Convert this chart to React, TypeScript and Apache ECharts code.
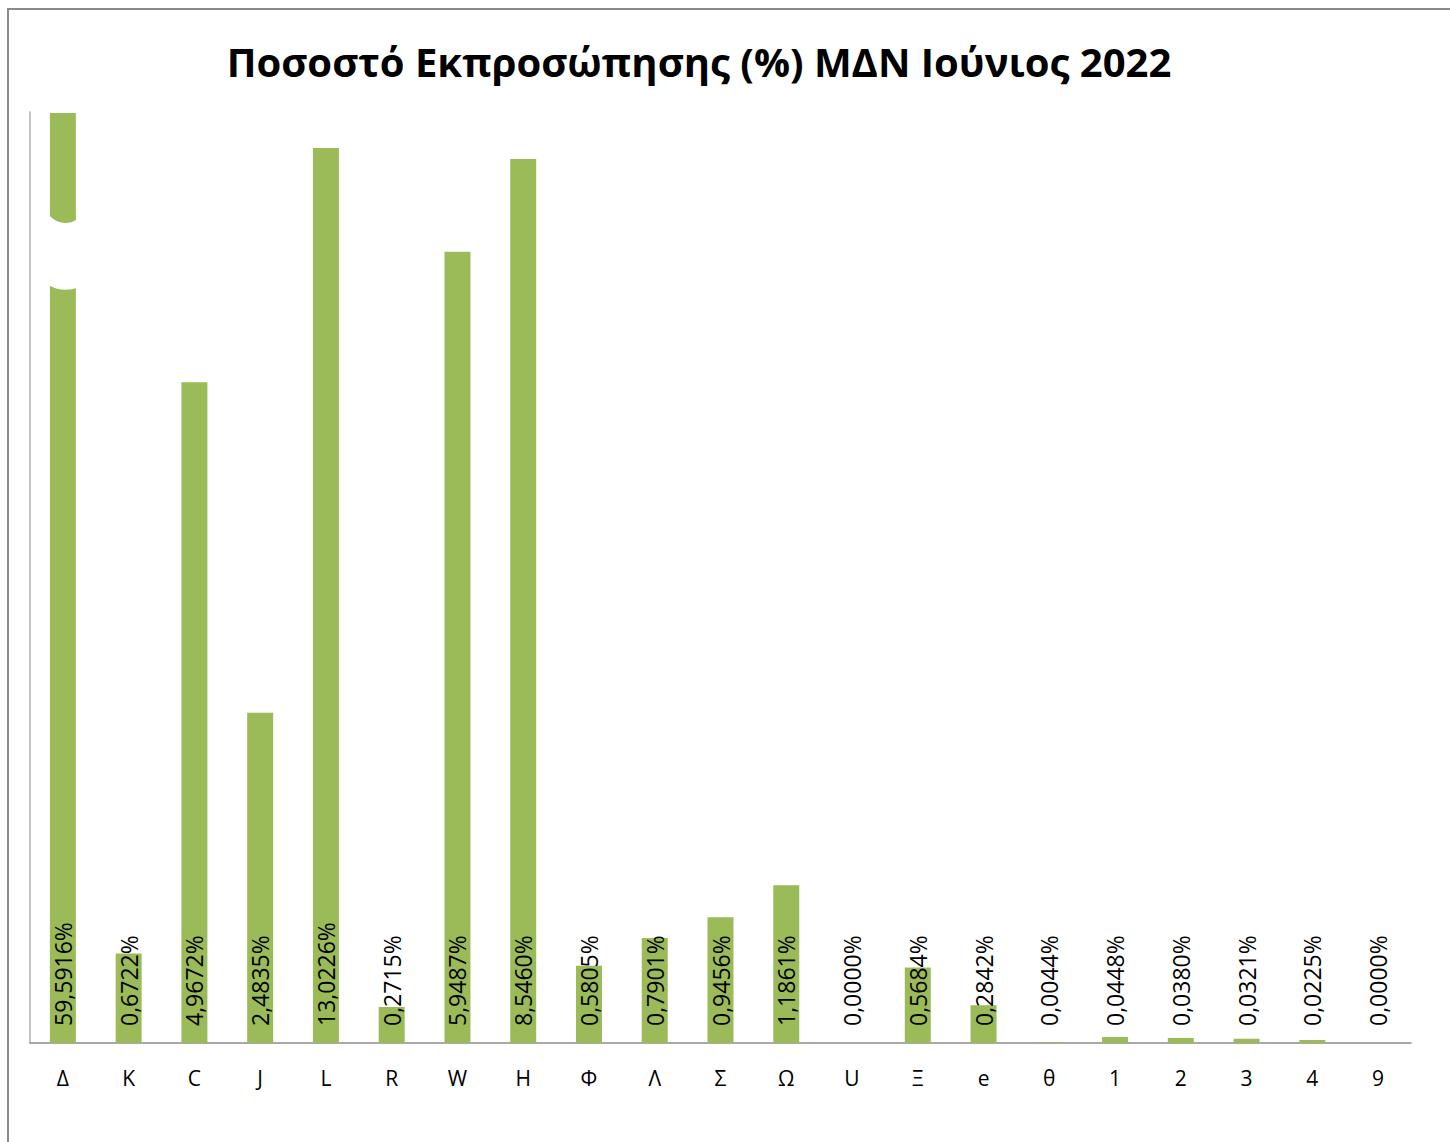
import React, { useEffect, useRef } from 'react';
import * as echarts from 'echarts';

const titleText = 'Ποσοστό Εκπροσώπησης (%) ΜΔΝ Ιούνιος 2022';
const categories = ['Δ', 'K', 'C', 'J', 'L', 'R', 'W', 'H', 'Φ', 'Λ', 'Σ', 'Ω', 'U', 'Ξ', 'e', 'θ', '1', '2', '3', '4', '9'];
const values = [59.5916, 0.6722, 4.9672, 2.4835, 13.0226, 0.2715, 5.9487, 8.546, 0.5805, 0.7901, 0.9456, 1.1861, 0.0, 0.5684, 0.2842, 0.0044, 0.0448, 0.038, 0.0321, 0.0225, 0.0];
const axisBreaks = [
  { start: 6.0, end: 8.3, gap: 0.401 },
  { start: 8.6, end: 13.0, gap: 0.005 },
  { start: 13.1, end: 59.5, gap: 0.094 },
];
const yMax = 59.6;
const breakMarkCategory = 'Δ';
const breakMarkValue = 5.66;

echarts.graphic.registerShape(
  'breakMark',
  (echarts.graphic as any).extendPath('M0,0 Q14,14 30,3 L30,72 Q14,78 0,70 Z', {})
);

export default function App() {
  const ref = useRef<HTMLDivElement>(null);
  useEffect(() => {
    if (!ref.current) return;
    const chart = echarts.init(ref.current, null, { renderer: 'svg' });
    const font = '"Open Sans", "Noto Sans", sans-serif';
    chart.setOption({
      animation: false,
      backgroundColor: '#ffffff',
      title: {
        text: titleText,
        left: 694,
        textAlign: 'center',
        top: 36,
        textStyle: { fontFamily: font, fontSize: 40, fontWeight: 'bold', color: '#000' },
      },
      grid: { left: 30, right: 39, top: 112, bottom: 99, containLabel: false },
      xAxis: {
        type: 'category',
        data: categories,
        axisLine: { lineStyle: { color: '#8c8c8c', width: 1.5 } },
        axisTick: { show: false },
        axisLabel: { fontFamily: font, fontSize: 21, color: '#000', margin: 24 },
      },
      yAxis: [
        {
          type: 'value',
          min: 0,
          max: yMax,
          breaks: axisBreaks,
          breakArea: { show: false },
          axisLine: { show: false },
          axisTick: { show: false },
          axisLabel: { show: false },
          splitLine: { show: false },
        },
        {
          type: 'value',
          position: 'left',
          min: 0,
          max: 1,
          axisLine: { show: true, onZero: false, lineStyle: { color: '#b0b0b0', width: 1.5 } },
          axisTick: { show: false },
          axisLabel: { show: false },
          splitLine: { show: false },
        },
      ],
      series: [
        {
          type: 'bar',
          data: values,
          yAxisIndex: 0,
          barWidth: 26,
          itemStyle: { color: '#9BBB59' },
          label: {
            show: true,
            position: 'insideBottom',
            rotate: 90,
            align: 'left',
            verticalAlign: 'middle',
            distance: 17,
            fontFamily: font,
            fontSize: 23,
            color: '#000',
            formatter: (p: any) => p.value.toFixed(4).replace('.', ',') + '%',
          },
        },
      ],
      graphic: [
        {
          id: 'border',
          type: 'rect',
          shape: { x: 8, y: 9, width: 1460, height: 1160 },
          style: { fill: 'none', stroke: '#8a8a8a', lineWidth: 2 },
          silent: true,
        },
      ],
    });
    const pt = chart.convertToPixel({ gridIndex: 0 } as any, [breakMarkCategory, breakMarkValue]) as number[];
    if (pt) {
      chart.setOption({
        graphic: [
          {
            id: 'breakmark',
            type: 'breakMark',
            x: pt[0] - 14,
            y: pt[1] - 75,
            style: { fill: '#ffffff', stroke: 'none' },
            z: 100,
          },
        ],
      });
    }
    return () => chart.dispose();
  }, []);
  return <div ref={ref} style={{ position: 'absolute', left: 0, top: 0, width: 1450, height: 1142 }} />;
}
